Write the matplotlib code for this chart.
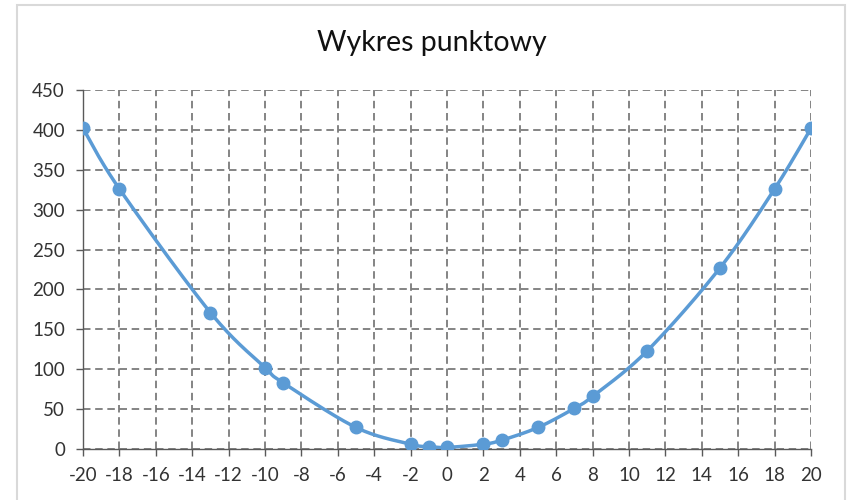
import numpy as np
import matplotlib
matplotlib.use("Agg")
import matplotlib.pyplot as plt
from matplotlib.patches import Rectangle

plt.rcParams['font.family'] = ['Lato', 'DejaVu Sans']
plt.rcParams['axes.unicode_minus'] = False

x_vals = [-20, -18, -13, -10, -9, -5, -2, -1, 0, 2, 3, 5, 7, 8, 11, 15, 18, 20]
y_vals = [402, 326, 171, 102, 83, 27, 6, 3, 2, 6, 11, 27, 51, 66, 123, 227, 326, 402]
x_ticks = list(range(-20, 21, 2))
y_ticks = list(range(0, 451, 50))
title = "Wykres punktowy"
color = "#5B9BD5"


def smooth_curve(xs, ys, n=30, tension=0.5):
    """Cardinal (Catmull-Rom) Bezier smoothing through every point."""
    xs = np.asarray(xs, float)
    ys = np.asarray(ys, float)
    px = np.concatenate([[xs[0]], xs, [xs[-1]]])
    py = np.concatenate([[ys[0]], ys, [ys[-1]]])
    out_x, out_y = [], []
    for i in range(1, len(px) - 2):
        p0 = np.array([px[i - 1], py[i - 1]])
        p1 = np.array([px[i], py[i]])
        p2 = np.array([px[i + 1], py[i + 1]])
        p3 = np.array([px[i + 2], py[i + 2]])
        c1 = p1 + (p2 - p0) * tension / 3
        c2 = p2 - (p3 - p1) * tension / 3
        t = np.linspace(0, 1, n)[:, None]
        b = ((1 - t) ** 3) * p1 + 3 * ((1 - t) ** 2) * t * c1 + 3 * (1 - t) * t ** 2 * c2 + t ** 3 * p2
        out_x.extend(b[:, 0])
        out_y.extend(b[:, 1])
    return np.array(out_x), np.array(out_y)


fig = plt.figure(figsize=(8.52, 5.0), dpi=100)
ax = fig.add_axes([83 / 852, 51 / 500, (811 - 83) / 852, (449 - 90) / 500])

sx, sy = smooth_curve(x_vals, y_vals, tension=0.5)
ax.plot(sx, sy, color=color, lw=2.5, solid_capstyle='round', zorder=3)
ax.plot(x_vals, y_vals, 'o', color=color, markersize=9, zorder=4)

ax.set_xlim(-20, 20)
ax.set_ylim(0, 450)
ax.set_xticks(x_ticks)
ax.set_yticks(y_ticks)
ax.grid(True, color="#707070", linestyle=(0, (4.5, 2.8)), linewidth=1.2)
ax.set_axisbelow(True)

for side in ("top", "right"):
    ax.spines[side].set_visible(False)
for side in ("left", "bottom"):
    ax.spines[side].set_color("#595959")
    ax.spines[side].set_linewidth(1.0)

ax.tick_params(axis='both', colors="#595959", labelcolor="#333333", labelsize=13.5,
               length=5, width=1.0, direction='out')
ax.tick_params(axis='x', pad=8)
ax.tick_params(axis='y', pad=8)

fig.text(432 / 852, 1 - 43 / 500, title, ha='center', va='center', fontsize=20.5, color="#111111")

fig.add_artist(Rectangle((17 / 852, -0.05), (845 - 17) / 852, 1.05 - 5 / 500, transform=fig.transFigure,
                         fill=False, edgecolor="#d9d9d9", linewidth=1.5))

fig.savefig("out.png", dpi=100, facecolor="white")
